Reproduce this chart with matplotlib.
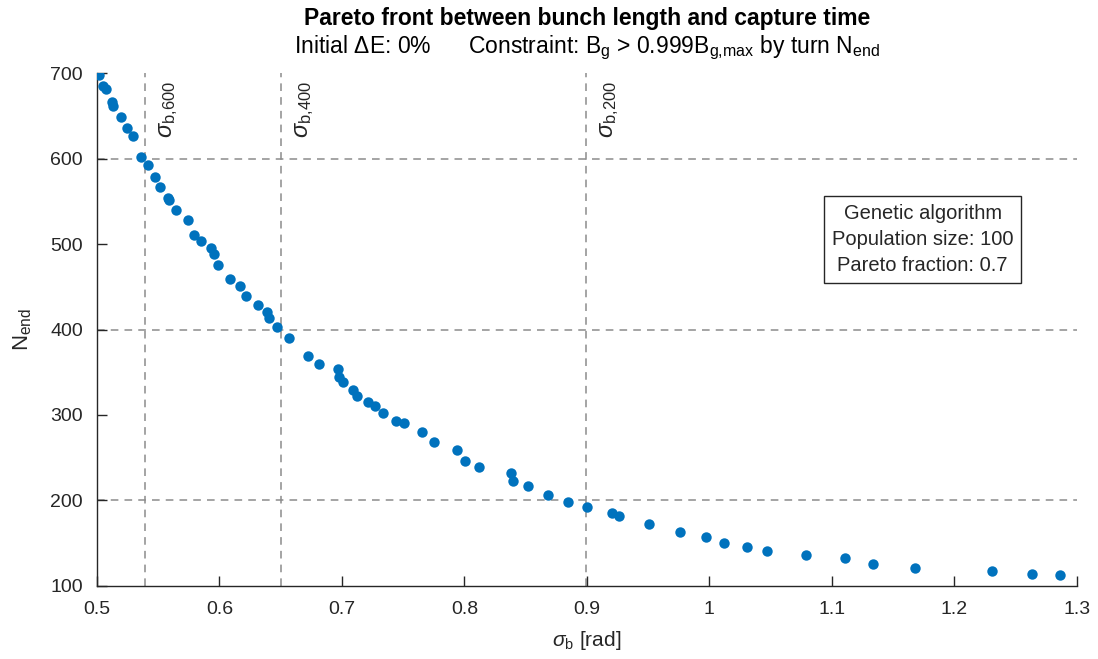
import numpy as np
import matplotlib
matplotlib.use('Agg')
import matplotlib.pyplot as plt

plt.rcParams['font.family'] = ['Liberation Sans', 'DejaVu Sans']
plt.rcParams['mathtext.fontset'] = 'custom'
plt.rcParams['mathtext.rm'] = 'Liberation Sans'
plt.rcParams['mathtext.it'] = 'Liberation Sans:italic'
plt.rcParams['mathtext.bf'] = 'Liberation Sans:bold'

# Pareto front points: bunch length sigma_b [rad] vs. turn N_end
sigma_b = [0.5016, 0.5049, 0.5073, 0.5122, 0.5131, 0.5196, 0.5245, 0.5294,
           0.5359, 0.5416, 0.5473, 0.5514, 0.5580, 0.5588, 0.5645, 0.5743,
           0.5792, 0.5849, 0.5931, 0.5955, 0.5988, 0.6086, 0.6167, 0.6216,
           0.6314, 0.6388, 0.6404, 0.6469, 0.6567, 0.6722, 0.6812, 0.6967,
           0.6976, 0.7008, 0.7090, 0.7122, 0.7212, 0.7269, 0.7335, 0.7441,
           0.7506, 0.7653, 0.7751, 0.7939, 0.8004, 0.8118, 0.8380, 0.8396,
           0.8518, 0.8682, 0.8845, 0.9000, 0.9204, 0.9261, 0.9506, 0.9759,
           0.9971, 1.0118, 1.0306, 1.0469, 1.0788, 1.1106, 1.1335, 1.1678,
           1.2306, 1.2633, 1.2861]
n_end = [697.7, 684.8, 681.3, 666.1, 661.4, 648.5, 635.7, 626.3,
         601.8, 592.4, 578.4, 566.7, 553.8, 551.5, 539.8, 528.1,
         510.5, 503.5, 495.3, 488.3, 475.4, 459.1, 450.9, 439.2,
         428.7, 420.5, 413.5, 402.9, 390.1, 369.0, 359.6, 353.8,
         344.4, 338.6, 329.2, 322.2, 315.2, 310.5, 302.3, 293.0,
         290.6, 280.1, 268.4, 259.1, 246.2, 239.2, 232.2, 222.8,
         216.9, 206.4, 198.2, 192.4, 185.4, 181.9, 172.5, 163.2,
         157.3, 150.3, 145.6, 140.9, 136.3, 132.7, 125.7, 121.1,
         117.5, 114.0, 112.9]

# reference turns and the bunch length reached at each
ref_turns = [600, 400, 200]
ref_sigma = [0.539, 0.650, 0.899]

fig = plt.figure(figsize=(10.98, 6.59), dpi=100)
ax = fig.add_axes([0.0883, 0.1108, 0.8925, 0.7784])

for t in ref_turns:
    ax.axhline(t, color='#8c8c8c', linestyle=(0, (5, 4)), linewidth=1.1, zorder=1)
for t, s in zip(ref_turns, ref_sigma):
    ax.axvline(s, color='#8c8c8c', linestyle=(0, (5, 4)), linewidth=1.1, zorder=1)
    ax.text(s + 0.010, 691, r'$\sigma_{\mathrm{b{,}%d}}$' % t, rotation=90,
            ha='left', va='top', fontsize=17, color='#262626')

ax.plot(sigma_b, n_end, 'o', color='#0072BD', markersize=7.5,
        markeredgewidth=0, zorder=3)

ax.set_xlim(0.5, 1.3)
ax.set_ylim(100, 700)
ax.set_xticks(np.arange(0.5, 1.31, 0.1))
ax.set_xticklabels(['0.5', '0.6', '0.7', '0.8', '0.9', '1', '1.1', '1.2', '1.3'])
ax.set_yticks(np.arange(100, 701, 100))
ax.tick_params(direction='in', length=7, width=1, labelsize=14,
               colors='#262626', top=False, right=False)
ax.tick_params(axis='x', pad=11)
ax.tick_params(axis='y', pad=10)
for side in ['top', 'right']:
    ax.spines[side].set_visible(False)
for side in ['left', 'bottom']:
    ax.spines[side].set_color('#262626')
    ax.spines[side].set_linewidth(1)

ax.set_xlabel(r'$\sigma_{\mathrm{b}}$ [rad]', fontsize=15, color='#262626', labelpad=8)
ax.set_ylabel(r'N$_{\mathrm{end}}$', fontsize=16, color='#262626', labelpad=12)

# two-line title, centred over the axes
ax.text(0.5, 0.972, 'Pareto front between bunch length and capture time',
        transform=ax.transAxes, ha='center', va='center', fontsize=16.5,
        fontweight='bold', color='black')
ax.text(0.5, 0.928, r'Initial $\Delta$E: 0%      Constraint: B$_{\mathrm{g}}$ > 0.999B$_{\mathrm{g{,}max}}$ by turn N$_{\mathrm{end}}$',
        transform=ax.transAxes, ha='center', va='center', fontsize=16.5, color='black')
for t in ax.texts[-2:]:
    t.set_transform(matplotlib.transforms.blended_transform_factory(ax.transAxes, fig.transFigure))
    t.set_clip_on(False)

ax.text(1.174, 505, 'Genetic algorithm\nPopulation size: 100\nPareto fraction: 0.7',
        ha='center', va='center', fontsize=14.5, color='#262626', linespacing=1.45,
        bbox=dict(boxstyle='square,pad=0.4', facecolor='white', edgecolor='#262626',
                  linewidth=1))

fig.savefig('out.png', dpi=100)
